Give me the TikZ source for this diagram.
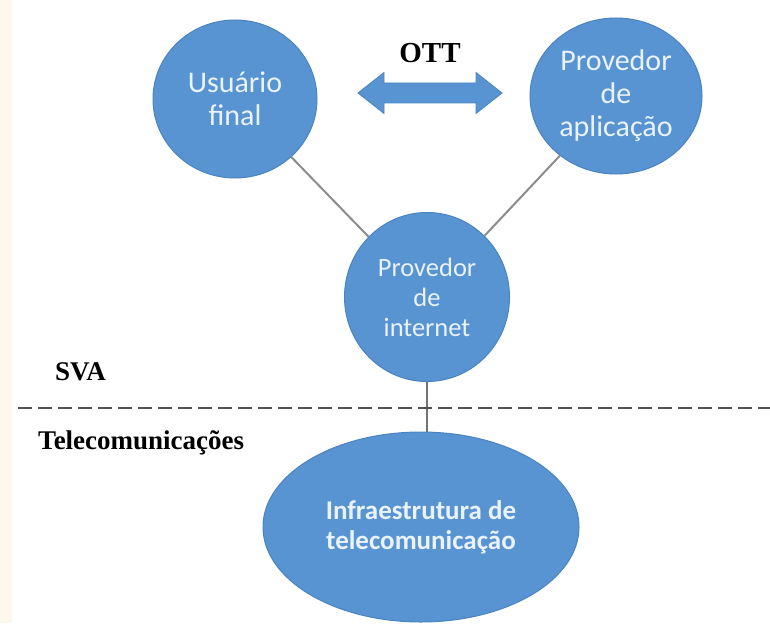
\documentclass[tikz,border=0pt]{standalone}
\usepackage{fontspec}
\setmainfont{Liberation Serif}
\newfontfamily\calibri{Carlito}
\usetikzlibrary{shapes.geometric}

\definecolor{bolaazul}{RGB}{88,148,210}
\definecolor{bordaazul}{RGB}{74,132,192}
\definecolor{textoclaro}{RGB}{234,242,250}
\definecolor{linhacinza}{RGB}{140,140,140}
\definecolor{cinzaescuro}{RGB}{80,80,80}
\definecolor{creme}{RGB}{253,247,236}

\begin{document}
\begin{tikzpicture}[x=1pt, y=-1pt,
  bola/.style={ellipse, fill=bolaazul, draw=bordaazul, line width=1pt, inner sep=0pt, text=textoclaro, align=center},
  liga/.style={draw=linhacinza, line width=2pt},
  rotulo/.style={font=\bfseries\fontsize{27}{30}\selectfont, inner sep=0pt}]
\useasboundingbox (0,0) rectangle (770,623);
\fill[creme] (0,0) rectangle (12,623);

% circulos de cima
\node[bola, minimum width=164, minimum height=158, font=\calibri\fontsize{30}{33}\selectfont] (usuario) at (235,99) {Usuário\\final};
\node[bola, minimum width=172, minimum height=156, font=\calibri\fontsize{30}{33}\selectfont] (aplicacao) at (616,96) {Provedor\\de\\aplicação};
\node[bola, minimum width=165, minimum height=169, font=\calibri\fontsize{26.5}{30}\selectfont] (internet) at (427,297) {Provedor\\de\\internet};
\node[bola, minimum width=316, minimum height=190, font=\calibri\bfseries\fontsize{27}{30}\selectfont] (infra) at (421,527) {Infraestrutura de\\telecomunicação};

% OTT
\node[rotulo, font=\bfseries\fontsize{29}{32}\selectfont, anchor=base] (ott) at (430,63) {OTT};
\begin{scope}[shift={(430,93)}]
\filldraw[fill=bolaazul, draw=bordaazul, line width=0.8pt] (-72,0) -- (-46,-20.5) -- (-46,-10) -- (46,-10) -- (46,-20.5)
  -- (72,0) -- (46,20.5) -- (46,10) -- (-46,10) -- (-46,20.5) -- cycle;
\end{scope}

\draw[liga] (usuario) -- (internet);
\draw[liga] (aplicacao) -- (internet);
\draw[liga, draw=cinzaescuro!80] (internet.south) -- (internet.south |- infra.north);

% divisao SVA / telecom
\draw[cinzaescuro, line width=2.5pt, dash pattern=on 14pt off 6pt] (18,408) -- (770,408);
\node[rotulo, anchor=base west] (sva) at (55,380) {SVA};
\node[rotulo, anchor=base west] (telecom) at (38,449) {Telecomunicações};
\end{tikzpicture}
\end{document}
